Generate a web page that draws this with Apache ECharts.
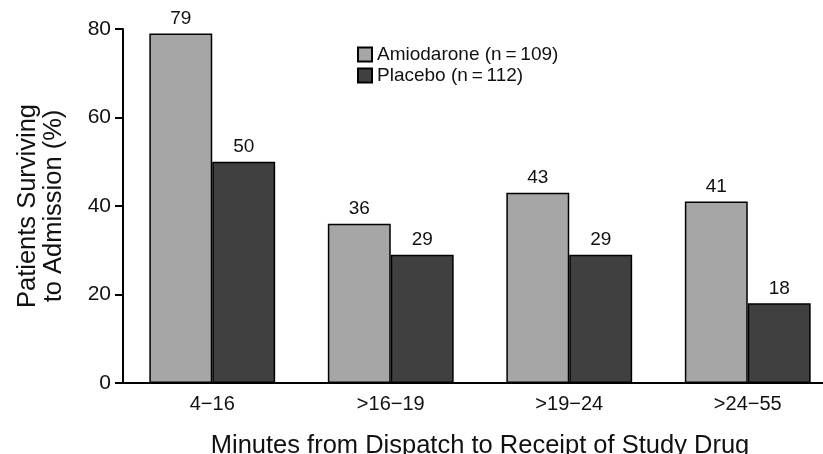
<!DOCTYPE html>
<html><head><meta charset="utf-8">
<script src="https://cdn.jsdelivr.net/npm/echarts@6/dist/echarts.min.js"></script>
<style>html,body{margin:0;padding:0;background:#fff}#c{width:823px;height:454px}</style>
</head><body><div id="c"></div>
<script>
const categories = ['4\u221216', '>16\u221219', '>19\u221224', '>24\u221255'];
const amiodarone = [79, 36, 43, 41];
const placebo = [50, 29, 29, 18];
const yTicks = [0, 20, 40, 60, 80];
const seriesNames = ['Amiodarone (n\u2009=\u2009109)', 'Placebo (n\u2009=\u2009112)'];

const chart = echarts.init(document.getElementById('c'));
const font = 'Liberation Sans, Arial, sans-serif';
const lbl = {show:true, position:'top', color:'#111', fontSize:19, fontFamily:font, distance:5};
chart.setOption({
  animation:false,
  textStyle:{fontFamily:font},
  legend:{
    left:352, top:40, orient:'vertical', itemWidth:14, itemHeight:14, itemGap:2,
    textStyle:{fontSize:19, color:'#111', fontFamily:font},
    data:seriesNames.map(n=>({name:n, icon:'rect'}))
  },
  grid:{left:123, width:714, top:29, height:354, containLabel:false, outerBoundsMode:'none'},
  xAxis:{
    type:'category', data:categories,
    axisLine:{lineStyle:{color:'#000', width:2}},
    axisTick:{show:false},
    axisLabel:{fontSize:20, color:'#111', margin:11, fontFamily:font},
    name:'Minutes from Dispatch to Receipt of Study Drug',
    nameLocation:'middle', nameGap:50,
    nameTextStyle:{fontSize:25.5, color:'#111', fontFamily:font}
  },
  yAxis:{
    type:'value', min:0, max:80, interval:20,
    axisLine:{show:true, lineStyle:{color:'#000', width:2}},
    axisTick:{show:true, length:8, lineStyle:{color:'#000', width:2}},
    splitLine:{show:false},
    axisLabel:{fontSize:21, color:'#111', margin:12, fontFamily:font,
      formatter:v=>yTicks.includes(v)?String(v):''},
    name:'Patients Surviving\nto Admission (%)',
    nameLocation:'middle', nameGap:56, nameRotate:90,
    nameTextStyle:{fontSize:25.5, color:'#111', lineHeight:26, fontFamily:font}
  },
  series:[
    {name:seriesNames[0], type:'bar', data:amiodarone, barGap:'0%', barCategoryGap:'29.5%',
     itemStyle:{color:'#a6a6a6', borderColor:'#000', borderWidth:1.5}, label:lbl},
    {name:seriesNames[1], type:'bar', data:placebo,
     itemStyle:{color:'#404040', borderColor:'#000', borderWidth:1.5}, label:lbl}
  ]
});
</script></body></html>
